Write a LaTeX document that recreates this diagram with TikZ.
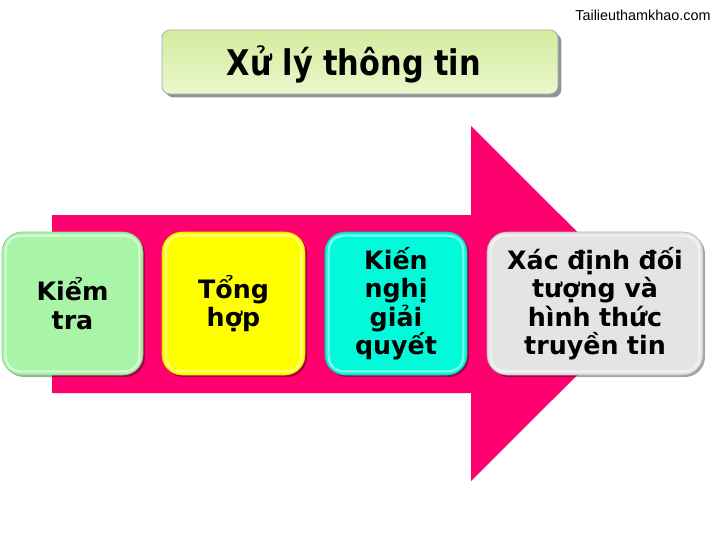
\documentclass[tikz,border=0pt]{standalone}
\usepackage{fontspec}
\setmainfont{DejaVu Sans}
\newfontfamily\titlefont[FakeStretch=0.86]{DejaVu Sans}
\newfontfamily\wmfont{Liberation Sans}
\usetikzlibrary{shadows}
\definecolor{arrowpink}{RGB}{255,0,110}
\definecolor{boxgreen}{RGB}{168,245,168}
\definecolor{boxyellow}{RGB}{255,255,0}
\definecolor{boxcyan}{RGB}{0,250,218}
\definecolor{boxgray}{RGB}{228,228,228}
\definecolor{titletop}{RGB}{212,236,158}
\definecolor{titlebot}{RGB}{234,247,205}
\begin{document}
\begin{tikzpicture}[x=0.75pt,y=-0.75pt,
  stepbox/.style={rounded corners=15pt, minimum height=107.25pt, inner sep=2pt,
    align=center, font=\bfseries\fontsize{19}{21.4}\selectfont,
    drop shadow={shadow xshift=1.5pt, shadow yshift=-1.5pt, opacity=0.35, fill=black}},
  hl/.style={draw=white, opacity=0.55, line width=1.5pt, rounded corners=11pt},
  titlebox/.style={rounded corners=6pt, draw=black!35, line width=0.6pt,
    top color=titletop, bottom color=titlebot, minimum width=297pt, minimum height=48pt,
    drop shadow={shadow xshift=2.5pt, shadow yshift=-2.5pt, opacity=0.6, fill=black!70}}]
\useasboundingbox (0,0) rectangle (720,540);
\fill[white] (0,0) rectangle (720,540);
% watermark
\node[font=\wmfont\fontsize{10.8}{12}\selectfont, inner sep=0pt] (wm) at (643,15) {Tailieuthamkhao.com};
% title
\node[titlebox] (title) at (360,62) {};
\node[font=\titlefont\bfseries\fontsize{26.5}{30}\selectfont, inner sep=0pt] (ttext) at (354,64) {Xử lý thông tin};
% big arrow
\fill[arrowpink] (52,215) -- (471,215) -- (471,126) -- (649,303.5) -- (471,481) -- (471,393) -- (52,393) -- cycle;
% boxes
\node[stepbox, fill=boxgreen, draw=boxgreen!80!black, minimum width=105.75pt, text width=96pt] (b1) at (72.5,303.5) {Kiểm\\tra};
\node[stepbox, fill=boxyellow, draw=boxyellow!85!black, minimum width=107.25pt, text width=96pt] (b2) at (233.5,303.5) {Tổng\\hợp};
\node[stepbox, fill=boxcyan, draw=boxcyan!80!black, minimum width=106.5pt, text width=96pt] (b3) at (396,303.5) {Kiến\\nghị\\giải\\quyết};
\node[stepbox, fill=boxgray, draw=boxgray!75!black, minimum width=162pt, text width=150pt] (b4) at (595,303.5) {Xác định đối\\tượng và\\hình thức\\truyền tin};
\foreach \b in {b1,b2,b3,b4}{
  \draw[hl] ([shift={(4,4)}]\b.north west) rectangle ([shift={(-4,-4)}]\b.south east);
}
\end{tikzpicture}
\end{document}
